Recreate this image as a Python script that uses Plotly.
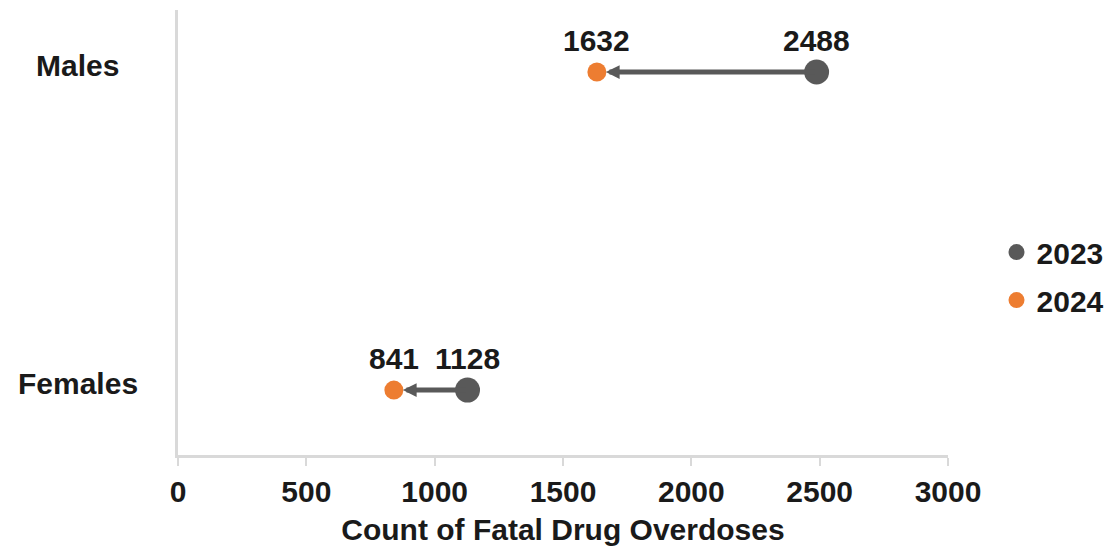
import plotly.graph_objects as go

# Fatal drug overdoses by sex, 2023 vs 2024
groups = ["Females", "Males"]
years = ["2023", "2024"]
counts_2023 = [1128, 2488]
counts_2024 = [841, 1632]
x_ticks = [0, 500, 1000, 1500, 2000, 2500, 3000]
x_title = "Count of Fatal Drug Overdoses"

GRAY = "#595959"
ORANGE = "#ED7D31"
AXIS = "#D9D9D9"
TEXT = "#1a1a1a"
FONT = "Liberation Sans, Arial, sans-serif"
FS = 30

fig = go.Figure()

fig.add_trace(go.Scatter(
    x=counts_2023, y=groups, mode="markers", name=years[0],
    marker=dict(color=GRAY, size=25), legendgroup="a", cliponaxis=False,
))
fig.add_trace(go.Scatter(
    x=counts_2024, y=groups, mode="markers", name=years[1],
    marker=dict(color=ORANGE, size=19), legendgroup="b", cliponaxis=False,
))

annotations = []
for g, a, b in zip(groups, counts_2023, counts_2024):
    # arrow from the 2023 value to the 2024 value
    annotations.append(dict(
        x=b, y=g, ax=a, ay=g, xref="x", yref="y", axref="x", ayref="y",
        text="", showarrow=True, arrowhead=2, arrowsize=0.55, arrowwidth=5,
        arrowcolor=GRAY, standoff=9,
    ))
    for v in (a, b):
        annotations.append(dict(
            x=v, y=g, xref="x", yref="y", text=f"<b>{v}</b>", showarrow=False,
            yshift=32, font=dict(size=FS, color=TEXT, family=FONT),
        ))
    # category label
    annotations.append(dict(
        x=-0.1299, y=g, xref="paper", yref="y", text=f"<b>{g}</b>",
        showarrow=False, xanchor="center", yshift=7,
        font=dict(size=FS, color=TEXT, family=FONT),
    ))

fig.update_layout(
    width=1115, height=552,
    margin=dict(l=178, r=167, t=10, b=97, autoexpand=False),
    paper_bgcolor="white", plot_bgcolor="white",
    font=dict(family=FONT, size=FS, color=TEXT),
    annotations=annotations,
    showlegend=True,
    legend=dict(
        x=1.063, xanchor="left", y=0.402, yanchor="middle",
        font=dict(size=FS, color=TEXT, family=FONT, weight="bold"),
        itemsizing="trace", tracegroupgap=6, bgcolor="rgba(0,0,0,0)",
    ),
    xaxis=dict(
        range=[0, 3000], tickvals=x_ticks, ticktext=[f"<b>{t}</b>" for t in x_ticks],
        showgrid=False, zeroline=False, showline=True, linecolor=AXIS, linewidth=3,
        ticks="outside", ticklen=8, tickwidth=2, tickcolor=AXIS,
        tickfont=dict(size=FS, color=TEXT, family=FONT),
        title=dict(text=f"<b>{x_title}</b>", font=dict(size=FS, color=TEXT, family=FONT), standoff=12),
    ),
    yaxis=dict(
        type="category", categoryorder="array", categoryarray=groups,
        range=[-0.204, 1.195], showgrid=False, zeroline=False,
        showline=True, linecolor=AXIS, linewidth=3, showticklabels=False, ticks="",
    ),
)

fig.write_html("out.html")
